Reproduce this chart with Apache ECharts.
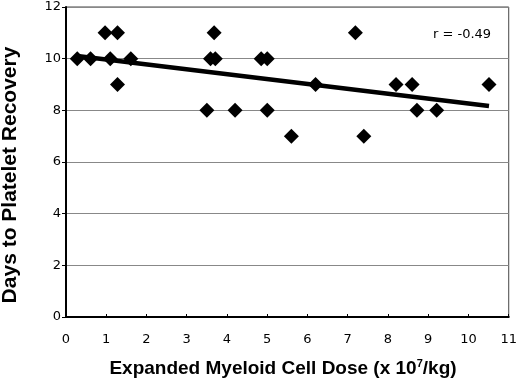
<!DOCTYPE html>
<html>
<head>
<meta charset="utf-8">
<script src="https://cdn.jsdelivr.net/npm/echarts@6/dist/echarts.min.js"></script>
<style>
  html, body { margin: 0; padding: 0; background: #fff; }
  #chart { width: 520px; height: 385px; }
</style>
</head>
<body>
<div id="chart"></div>
<script>
// cell dose (x 10^7/kg) and days to platelet recovery
var doseX = [0.28, 0.61, 0.97, 1.1, 1.28, 1.28, 1.61, 3.5, 3.59, 3.68, 3.71, 4.2,
             4.85, 5.0, 5.0, 5.6, 6.2, 7.19, 7.4, 8.2, 8.6, 8.72, 9.21, 10.51];
var daysY = [10, 10, 11, 10, 11, 9, 10, 8, 10, 11, 10, 8,
             10, 10, 8, 7, 9, 11, 7, 9, 9, 8, 8, 9];
// fitted line end points as drawn
var trendX = [0.28, 10.51];
var trendY = [10.1, 8.17];
var rLabel = "r = -0.49";
var xTitle = "Expanded Myeloid Cell Dose (x 10{sup|7}/kg)";
var yTitle = "Days to Platelet Recovery";

var points = doseX.map(function (x, i) { return [x, daysY[i]]; });
var trend = trendX.map(function (x, i) { return [x, trendY[i]]; });

var chart = echarts.init(document.getElementById("chart"));
var tickFont = "DejaVu Sans, sans-serif";
var titleFont = "Liberation Sans, Arial, sans-serif";

chart.setOption({
  animation: false,
  grid: {
    left: 66, right: 9, top: 7, bottom: 68,
    show: true,
    borderColor: "#444",
    borderWidth: 1
  },
  xAxis: {
    type: "value",
    min: 0, max: 11, interval: 1,
    axisLine: { lineStyle: { color: "#000", width: 2 } },
    axisTick: { show: true, inside: true, length: 3, lineStyle: { color: "#000" } },
    axisLabel: { fontFamily: tickFont, fontSize: 13, color: "#000", margin: 16 },
    splitLine: { show: false }
  },
  yAxis: {
    type: "value",
    min: 0, max: 12, interval: 2,
    axisLine: { show: true, lineStyle: { color: "#000", width: 2 } },
    axisTick: { show: true, length: 4, lineStyle: { color: "#000" } },
    axisLabel: { fontFamily: tickFont, fontSize: 13, color: "#000", margin: 5 },
    splitLine: { show: true, lineStyle: { color: "#888", width: 1 } }
  },
  series: [
    {
      type: "line",
      data: trend,
      symbol: "none",
      lineStyle: { color: "#000", width: 4.5 },
      z: 2
    },
    {
      type: "scatter",
      data: points,
      symbol: "diamond",
      symbolSize: 15,
      itemStyle: { color: "#000", opacity: 1 },
      z: 3
    }
  ],
  graphic: [
    {
      type: "text",
      left: 433, top: 28,
      style: { text: rLabel, fontFamily: tickFont, fontSize: 13, fill: "#000" }
    },
    {
      type: "text",
      x: 283, y: 369,
      style: {
        text: xTitle, fontFamily: titleFont, fontSize: 19, fontWeight: "bold", fill: "#000",
        align: "center", verticalAlign: "middle",
        rich: {
          sup: { fontFamily: titleFont, fontSize: 11, fontWeight: "bold", fill: "#000", padding: [0, 0, 10, 0] }
        }
      }
    },
    {
      type: "text",
      x: 10, y: 175,
      rotation: Math.PI / 2,
      style: {
        text: yTitle, fontFamily: titleFont, fontSize: 21, fontWeight: "bold", fill: "#000",
        align: "center", verticalAlign: "middle"
      }
    }
  ]
});
</script>
</body>
</html>
